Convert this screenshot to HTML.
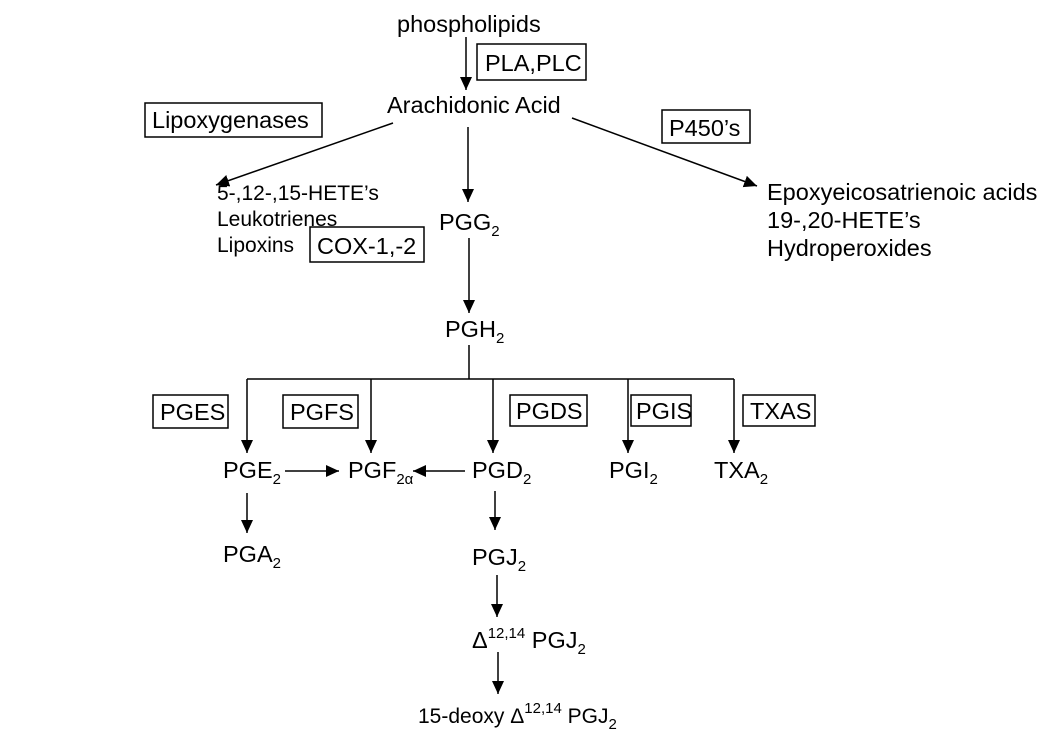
<!DOCTYPE html>
<html><head><meta charset="utf-8"><style>
html,body{margin:0;padding:0;background:#fff;}
svg{display:block;}
text{font-family:"Liberation Sans",Arial,sans-serif;font-size:23.5px;fill:#000;}
.s{font-size:15px;}
.m{font-size:21px;}
</style></head><body>
<svg width="1050" height="747" viewBox="0 0 1050 747" xmlns="http://www.w3.org/2000/svg">
<defs>
<marker id="b" markerWidth="14" markerHeight="14" refX="13" refY="6" orient="auto" markerUnits="userSpaceOnUse"><path d="M0,0 L13,6 L0,12 z" fill="#000"/></marker></defs>
<g stroke="#000" stroke-width="1.5" fill="none">
<line x1="466" y1="37" x2="466" y2="90" marker-end="url(#b)"/>
<rect x="477" y="44" width="109" height="36"/>
<rect x="145" y="103" width="177" height="34"/>
<rect x="662" y="110" width="88" height="33"/>
<line x1="393" y1="123" x2="216" y2="185" marker-end="url(#b)"/>
<line x1="572" y1="118" x2="757" y2="186" marker-end="url(#b)"/>
<line x1="468" y1="127" x2="468" y2="202" marker-end="url(#b)"/>
<rect x="310" y="227" width="114" height="35"/>
<line x1="469" y1="238" x2="469" y2="313" marker-end="url(#b)"/>
<line x1="469" y1="345" x2="469" y2="379"/>
<line x1="247" y1="379" x2="734" y2="379"/>
<line x1="247" y1="379" x2="247" y2="453" marker-end="url(#b)"/>
<line x1="371" y1="379" x2="371" y2="453" marker-end="url(#b)"/>
<line x1="493" y1="379" x2="493" y2="453" marker-end="url(#b)"/>
<line x1="628" y1="379" x2="628" y2="453" marker-end="url(#b)"/>
<line x1="734" y1="379" x2="734" y2="453" marker-end="url(#b)"/>
<rect x="153" y="395" width="75" height="33"/>
<rect x="283" y="395" width="75" height="33"/>
<rect x="510" y="395" width="77" height="31"/>
<rect x="631" y="395" width="60" height="31"/>
<rect x="743" y="395" width="72" height="31"/>
<line x1="285" y1="471" x2="339" y2="471" marker-end="url(#b)"/>
<line x1="465" y1="471" x2="413" y2="471" marker-end="url(#b)"/>
<line x1="247" y1="493" x2="247" y2="533" marker-end="url(#b)"/>
<line x1="495" y1="491" x2="495" y2="530" marker-end="url(#b)"/>
<line x1="497" y1="575" x2="497" y2="617" marker-end="url(#b)"/>
<line x1="498" y1="652" x2="498" y2="694" marker-end="url(#b)"/>
</g>
<text x="397" y="32">phospholipids</text>
<text x="485" y="71">PLA,PLC</text>
<text x="387" y="113">Arachidonic Acid</text>
<text x="152" y="128">Lipoxygenases</text>
<text x="669" y="136">P450’s</text>
<text class="m" x="217" y="200">5-,12-,15-HETE’s</text>
<text class="m" x="217" y="226">Leukotrienes</text>
<text class="m" x="217" y="252">Lipoxins</text>
<text x="767" y="200">Epoxyeicosatrienoic acids</text>
<text x="767" y="228">19-,20-HETE’s</text>
<text x="767" y="256">Hydroperoxides</text>
<text x="439" y="230">PGG<tspan class="s" dy="6">2</tspan></text>
<text x="317" y="254">COX-1,-2</text>
<text x="445" y="337">PGH<tspan class="s" dy="6">2</tspan></text>
<text x="160" y="420">PGES</text>
<text x="290" y="420">PGFS</text>
<text x="516" y="419">PGDS</text>
<text x="636" y="419">PGIS</text>
<text x="750" y="419">TXAS</text>
<text x="223" y="478">PGE<tspan class="s" dy="6">2</tspan></text>
<text x="348" y="478">PGF<tspan class="s" dy="6">2α</tspan></text>
<text x="472" y="478">PGD<tspan class="s" dy="6">2</tspan></text>
<text x="609" y="478">PGI<tspan class="s" dy="6">2</tspan></text>
<text x="714" y="478">TXA<tspan class="s" dy="6">2</tspan></text>
<text x="223" y="562">PGA<tspan class="s" dy="6">2</tspan></text>
<text x="472" y="565">PGJ<tspan class="s" dy="6">2</tspan></text>
<text x="472" y="648">Δ<tspan class="s" dy="-10">12,14</tspan><tspan dy="10"> PGJ</tspan><tspan class="s" dy="6">2</tspan></text>
<text class="m" x="418" y="723">15-deoxy Δ<tspan class="s" dy="-10">12,14</tspan><tspan dy="10"> PGJ</tspan><tspan class="s" dy="6">2</tspan></text>
</svg>
</body></html>
